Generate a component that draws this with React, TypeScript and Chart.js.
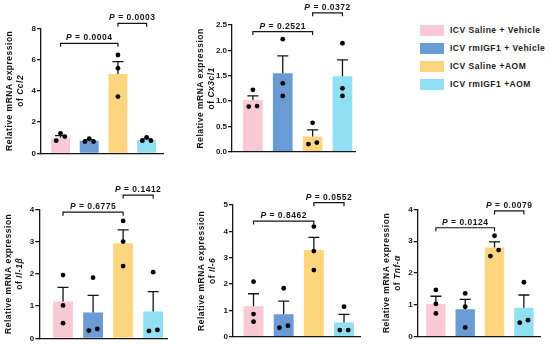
import React, { useEffect, useRef } from "react";
import { Chart, registerables } from "chart.js";

Chart.register(...registerables);

const FONT = '"Liberation Sans", Arial, Helvetica, sans-serif';

const groups = ["ICV Saline + Vehicle", "ICV rmIGF1 + Vehicle", "ICV Saline +AOM", "ICV rmIGF1 +AOM"];
const barColors = ["#F9C9D6", "#6A9BD5", "#FDD57F", "#90DFF3"];
const comparisons = [[0, 2], [2, 3]];

// Ccl2
const ccl2Mean = [1.0, 0.81, 5.08, 0.85];
const ccl2Sem = [0.13, 0.07, 0.79, 0.07];
const ccl2Points = [[1.28, 1.07, 0.81], [0.93, 0.75, 0.75], [6.29, 5.44, 3.63], [1.02, 0.81, 0.81]];
const ccl2Ticks = ["0", "2", "4", "6", "8"];
const ccl2P = ["0.0004", "0.0003"];
const ccl2Levels = [7.04, 8.32];

// Cx3cl1
const cx3cl1Mean = [1.02, 1.55, 0.3, 1.49];
const cx3cl1Sem = [0.08, 0.34, 0.13, 0.32];
const cx3cl1Points = [[1.22, 0.89, 0.9], [2.22, 1.35, 1.1], [0.57, 0.15, 0.18], [2.14, 1.25, 1.1]];
const cx3cl1Ticks = ["0.0", "0.5", "1.0", "1.5", "2.0", "2.5"];
const cx3cl1P = ["0.2521", "0.0372"];
const cx3cl1Levels = [2.37, 2.74];

// Il-1β
const il1bMean = [1.14, 0.8, 2.95, 0.83];
const il1bSem = [0.44, 0.53, 0.41, 0.62];
const il1bPoints = [[1.96, 1.02, 0.47], [1.88, 0.24, 0.29], [3.64, 3.0, 2.24], [2.05, 0.23, 0.26]];
const il1bTicks = ["0", "1", "2", "3", "4"];
const il1bP = ["0.6775", "0.1412"];
const il1bLevels = [3.91, 4.44];

// Il-6
const il6Mean = [1.16, 0.85, 3.29, 0.54];
const il6Sem = [0.47, 0.5, 0.48, 0.31];
const il6Points = [[2.09, 0.86, 0.57], [1.84, 0.34, 0.42], [4.18, 3.25, 2.53], [1.14, 0.25, 0.25]];
const il6Ticks = ["0", "1", "2", "3", "4", "5"];
const il6P = ["0.8462", "0.0552"];
const il6Levels = [4.39, 5.09];

// Tnf-α
const tnfMean = [1.03, 0.86, 2.8, 0.91];
const tnfSem = [0.24, 0.31, 0.18, 0.4];
const tnfPoints = [[1.47, 1.03, 0.73], [1.36, 0.94, 0.29], [3.17, 2.72, 2.53], [1.71, 0.52, 0.44]];
const tnfTicks = ["0", "1", "2", "3", "4"];
const tnfP = ["0.0124", "0.0079"];
const tnfLevels = [3.42, 3.95];

type Panel = {
  gene: string;
  mean: number[];
  sem: number[];
  points: number[][];
  ticks: string[];
  pValues: string[];
  pLevels: number[];
  area: number[]; // l, t, r, b (layout)
  xRange: number[];
};

const panels: Panel[] = [
  { gene: "Ccl2", mean: ccl2Mean, sem: ccl2Sem, points: ccl2Points, ticks: ccl2Ticks, pValues: ccl2P, pLevels: ccl2Levels, area: [41, 28.3, 163, 153.3], xRange: [-0.68, 3.57] },
  { gene: "Cx3cl1", mean: cx3cl1Mean, sem: cx3cl1Sem, points: cx3cl1Points, ticks: cx3cl1Ticks, pValues: cx3cl1P, pLevels: cx3cl1Levels, area: [232, 25, 355, 151.7], xRange: [-0.7, 3.42] },
  { gene: "Il-1β", mean: il1bMean, sem: il1bSem, points: il1bPoints, ticks: il1bTicks, pValues: il1bP, pLevels: il1bLevels, area: [39.3, 209.3, 167, 338.3], xRange: [-0.79, 3.46] },
  { gene: "Il-6", mean: il6Mean, sem: il6Sem, points: il6Points, ticks: il6Ticks, pValues: il6P, pLevels: il6Levels, area: [233, 205, 360, 336.7], xRange: [-0.68, 3.53] },
  { gene: "Tnf-α", mean: tnfMean, sem: tnfSem, points: tnfPoints, ticks: tnfTicks, pValues: tnfP, pLevels: tnfLevels, area: [417.7, 209.3, 540, 336.7], xRange: [-0.62, 3.55] },
];

// deterministic beeswarm: points too close vertically are spread sideways
function swarmOffsets(vals: number[], yMax: number): number[] {
  const tol = yMax * 0.05;
  const order = vals.map((_, i) => i).sort((a, b) => vals[b] - vals[a]);
  const offsets = new Array(vals.length).fill(0);
  let cluster: number[] = [];
  const flush = () => {
    if (cluster.length === 2) {
      offsets[cluster[0]] = 0.14;
      offsets[cluster[1]] = -0.14;
    } else if (cluster.length >= 3) {
      offsets[cluster[0]] = 0;
      offsets[cluster[1]] = 0.15;
      offsets[cluster[2]] = -0.15;
    }
    cluster = [];
  };
  order.forEach((idx, k) => {
    if (k > 0 && vals[order[k - 1]] - vals[idx] >= tol) flush();
    cluster.push(idx);
  });
  flush();
  return offsets;
}

const INK = "#151515";

function PanelChart({ panel }: { panel: Panel }) {
  const ref = useRef<HTMLCanvasElement>(null);
  const [l, t, r, b] = panel.area;
  const cLeft = Math.floor(l) - 50;
  const cTop = Math.max(0, Math.floor(t) - 28);
  const cW = Math.ceil(r) + 10 - cLeft;
  const cH = Math.ceil(b) + 10 - cTop;

  useEffect(() => {
    const yAxisW = 30;
    const tickVals = panel.ticks.map(Number);
    const yMax = tickVals[tickVals.length - 1];
    const offsets = panel.points.map((ps) => swarmOffsets(ps, yMax));
    const scatterData = panel.points.flatMap((ps, g) => ps.map((v, k) => ({ x: g + offsets[g][k], y: v })));

    const annot = {
      id: "annot",
      afterDatasetDraw(chart: any, args: any) {
        if (args.index !== 0) return;
        const { ctx } = chart;
        const xs = chart.scales.x;
        const ys = chart.scales.y;
        ctx.save();
        ctx.strokeStyle = INK;
        ctx.lineWidth = 1.3;
        panel.mean.forEach((m, g) => {
          const x = xs.getPixelForValue(g);
          const y0 = ys.getPixelForValue(m);
          const y1 = ys.getPixelForValue(m + panel.sem[g]);
          ctx.beginPath();
          ctx.moveTo(x, y0);
          ctx.lineTo(x, y1);
          ctx.moveTo(x - 5.5, y1);
          ctx.lineTo(x + 5.5, y1);
          ctx.stroke();
        });
        ctx.restore();
      },
      afterDraw(chart: any) {
        const { ctx, chartArea } = chart;
        const xs = chart.scales.x;
        const ys = chart.scales.y;
        ctx.save();
        ctx.strokeStyle = INK;
        ctx.fillStyle = INK;
        ctx.lineWidth = 1.2;
        (ctx as any).letterSpacing = "0.5px";
        const normal = `bold 8.5px ${FONT}`;
        const italic = `italic bold 8.5px ${FONT}`;
        comparisons.forEach(([a, c], k) => {
          const xa = xs.getPixelForValue(a);
          const xc = xs.getPixelForValue(c);
          const y = ys.getPixelForValue(panel.pLevels[k]);
          ctx.beginPath();
          ctx.moveTo(xa, y + 3.5);
          ctx.lineTo(xa, y);
          ctx.lineTo(xc, y);
          ctx.lineTo(xc, y + 3.5);
          ctx.stroke();
          const rest = " = " + panel.pValues[k];
          ctx.font = italic;
          const wp = ctx.measureText("P").width;
          ctx.font = normal;
          const wr = ctx.measureText(rest).width;
          const x0 = (xa + xc) / 2 - (wp + wr) / 2;
          ctx.textBaseline = "alphabetic";
          ctx.textAlign = "left";
          ctx.font = italic;
          ctx.fillText("P", x0, y - 3);
          ctx.font = normal;
          ctx.fillText(rest, x0 + wp, y - 3);
        });
        // y-axis title
        ctx.translate(chartArea.left - 31, (chartArea.top + chartArea.bottom) / 2);
        ctx.rotate(-Math.PI / 2);
        ctx.textBaseline = "middle";
        ctx.textAlign = "left";
        ctx.font = normal;
        const line1 = "Relative mRNA expression";
        const w1 = ctx.measureText(line1).width;
        ctx.fillText(line1, -w1 / 2, 0);
        const pre = "of ";
        const wPre = ctx.measureText(pre).width;
        ctx.font = italic;
        const wGene = ctx.measureText(panel.gene).width;
        const s = -(wPre + wGene) / 2;
        ctx.font = normal;
        ctx.fillText(pre, s, 11);
        ctx.font = italic;
        ctx.fillText(panel.gene, s + wPre, 11);
        ctx.restore();
      },
    };

    const chart = new Chart(ref.current!, {
      type: "bar",
      data: {
        datasets: [
          {
            type: "bar",
            data: panel.mean.map((m, g) => ({ x: g, y: m })),
            backgroundColor: barColors,
            borderWidth: 0,
            barPercentage: 0.66,
            categoryPercentage: 1,
            order: 2,
          } as any,
          {
            type: "scatter",
            data: scatterData,
            backgroundColor: "#000",
            borderWidth: 0,
            pointRadius: 2.4,
            order: 1,
          } as any,
        ],
      },
      options: {
        responsive: false,
        animation: false,
        devicePixelRatio: 1,
        events: [],
        layout: {
          padding: { left: l - cLeft - yAxisW, top: t - cTop, right: cLeft + cW - r, bottom: cTop + cH - b },
        },
        scales: {
          x: {
            type: "linear",
            min: panel.xRange[0],
            max: panel.xRange[1],
            offset: false,
            grid: { display: false },
            ticks: { display: false },
            border: { display: true, color: INK, width: 1.3 },
            afterFit: (s: any) => {
              s.height = 0;
            },
          },
          y: {
            type: "linear",
            min: 0,
            max: yMax,
            afterBuildTicks: (s: any) => {
              s.ticks = tickVals.map((v) => ({ value: v }));
            },
            ticks: {
              autoSkip: false,
              crossAlign: "near",
              callback: (v: any, i: number) => panel.ticks[i],
              font: { family: FONT, size: 8, weight: "bold" },
              color: INK,
              padding: 1,
            },
            grid: { drawOnChartArea: false, drawTicks: true, tickLength: 4, color: INK, lineWidth: 1.3 },
            border: { display: true, color: INK, width: 1.3 },
            afterFit: (s: any) => {
              s.width = yAxisW;
            },
          },
        },
        plugins: { legend: { display: false }, tooltip: { enabled: false } },
      } as any,
      plugins: [annot],
    });
    return () => chart.destroy();
  }, []);

  return (
    <canvas
      ref={ref}
      width={cW}
      height={cH}
      style={{ position: "absolute", left: cLeft, top: cTop, width: cW, height: cH }}
    />
  );
}

function Legend() {
  return (
    <>
      {groups.map((g, i) => (
        <div
          key={g}
          style={{
            position: "absolute",
            left: 420,
            top: 25.2 + i * 17.8,
            height: 11,
            display: "flex",
            alignItems: "center",
            whiteSpace: "nowrap",
          }}
        >
          <div style={{ width: 24, height: 11, background: barColors[i] }} />
          <span
            style={{
              marginLeft: 6,
              font: `bold 8.5px ${FONT}`,
              letterSpacing: "0.5px",
              color: "#222",
              lineHeight: "11px",
            }}
          >
            {g}
          </span>
        </div>
      ))}
    </>
  );
}

export default function App() {
  return (
    <div
      style={{
        position: "absolute",
        left: 0,
        top: 0,
        width: 550,
        height: 345,
        background: "#fff",
        overflow: "hidden",
      }}
    >
      {panels.map((p) => (
        <PanelChart key={p.gene} panel={p} />
      ))}
      <Legend />
    </div>
  );
}
